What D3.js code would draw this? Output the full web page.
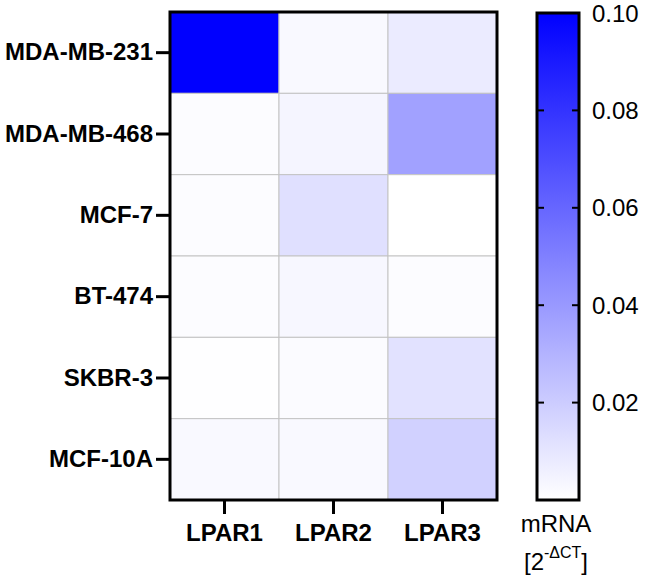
<!DOCTYPE html>
<html><head><meta charset="utf-8">
<script src="https://cdn.jsdelivr.net/npm/d3@7"></script>
<style>body{margin:0;background:#fff}svg{display:block;font-family:"Liberation Sans",Arial,sans-serif}</style>
</head><body>
<script>
const cellLines = ["MDA-MB-231","MDA-MB-468","MCF-7","BT-474","SKBR-3","MCF-10A"];
const genes = ["LPAR1","LPAR2","LPAR3"];
const LPAR1 = [0.100, 0.001, 0.001, 0.001, 0.0005, 0.0025];
const LPAR2 = [0.0025, 0.004, 0.012, 0.003, 0.0015, 0.0025];
const LPAR3 = [0.008, 0.037, 0.000, 0.001, 0.0115, 0.018];
const legendTicks = [0.02, 0.04, 0.06, 0.08, 0.10];
const series = {LPAR1, LPAR2, LPAR3};

const W = 645, H = 579;
const svg = d3.select("body").append("svg").attr("width", W).attr("height", H);
const x = d3.scaleBand().domain(genes).range([170, 497]);
const y = d3.scaleBand().domain(cellLines).range([12, 500]);
const color = d3.scaleLinear().domain([0, 0.1]).range(["#ffffff", "#0000ff"]).clamp(true);

const cells = [];
genes.forEach(g => cellLines.forEach((c, i) => cells.push({g, c, v: series[g][i]})));
svg.append("g").selectAll("rect").data(cells).join("rect")
  .attr("x", d => x(d.g)).attr("y", d => y(d.c))
  .attr("width", x.bandwidth()).attr("height", y.bandwidth())
  .attr("fill", d => color(d.v)).attr("stroke", "#c4c4c4").attr("stroke-width", 1);

svg.append("rect").attr("x", 170).attr("y", 12).attr("width", 327).attr("height", 488)
  .attr("fill", "none").attr("stroke", "#000").attr("stroke-width", 3);

const yAxis = svg.append("g").attr("transform", "translate(170,0)")
  .call(d3.axisLeft(y).tickSize(14).tickPadding(3));
yAxis.select(".domain").remove();
yAxis.selectAll(".tick line").attr("stroke", "#000").attr("stroke-width", 3);
yAxis.selectAll("text").attr("font-size", 24).attr("font-weight", "bold").attr("fill", "#000");

const xAxis = svg.append("g").attr("transform", "translate(0,500)")
  .call(d3.axisBottom(x).tickSize(14).tickPadding(10));
xAxis.select(".domain").remove();
xAxis.selectAll(".tick line").attr("stroke", "#000").attr("stroke-width", 3);
xAxis.selectAll("text").attr("font-size", 24).attr("font-weight", "bold").attr("fill", "#000");

// colour bar
const cb = d3.scaleLinear().domain([0, 0.1]).range([500, 13]);
const defs = svg.append("defs");
const grad = defs.append("linearGradient").attr("id", "cbg").attr("x1", 0).attr("y1", 1).attr("x2", 0).attr("y2", 0);
d3.range(0, 1.0001, 0.1).forEach(t => grad.append("stop").attr("offset", t).attr("stop-color", color(t * 0.1)));
const cbx0 = 537, cbx1 = 579;
svg.append("rect").attr("x", cbx0).attr("y", cb(0.1)).attr("width", cbx1 - cbx0).attr("height", cb(0) - cb(0.1))
  .attr("fill", "url(#cbg)");
const cbTicks = svg.append("g");
legendTicks.forEach(v => {
  cbTicks.append("line").attr("x1", cbx0).attr("x2", cbx0 + 7).attr("y1", cb(v)).attr("y2", cb(v)).attr("stroke", "#000").attr("stroke-width", 2);
  cbTicks.append("line").attr("x1", cbx1 - 7).attr("x2", cbx1).attr("y1", cb(v)).attr("y2", cb(v)).attr("stroke", "#000").attr("stroke-width", 2);
  cbTicks.append("text").attr("x", 592).attr("y", cb(v)).attr("dy", "0.36em").attr("font-size", 24).attr("fill", "#000").text(d3.format(".2f")(v));
});
svg.append("rect").attr("x", cbx0).attr("y", cb(0.1)).attr("width", cbx1 - cbx0).attr("height", cb(0) - cb(0.1))
  .attr("fill", "none").attr("stroke", "#000").attr("stroke-width", 3);

svg.append("text").attr("x", 556).attr("y", 532).attr("text-anchor", "middle").attr("font-size", 24).attr("fill", "#000").text("mRNA");
const t2 = svg.append("text").attr("x", 556).attr("y", 570).attr("text-anchor", "middle").attr("font-size", 24).attr("fill", "#000");
t2.append("tspan").text("[2");
t2.append("tspan").attr("dy", -12).attr("font-size", 16).text("-ΔCT");
t2.append("tspan").attr("dy", 12).text("]");
</script>
</body></html>
